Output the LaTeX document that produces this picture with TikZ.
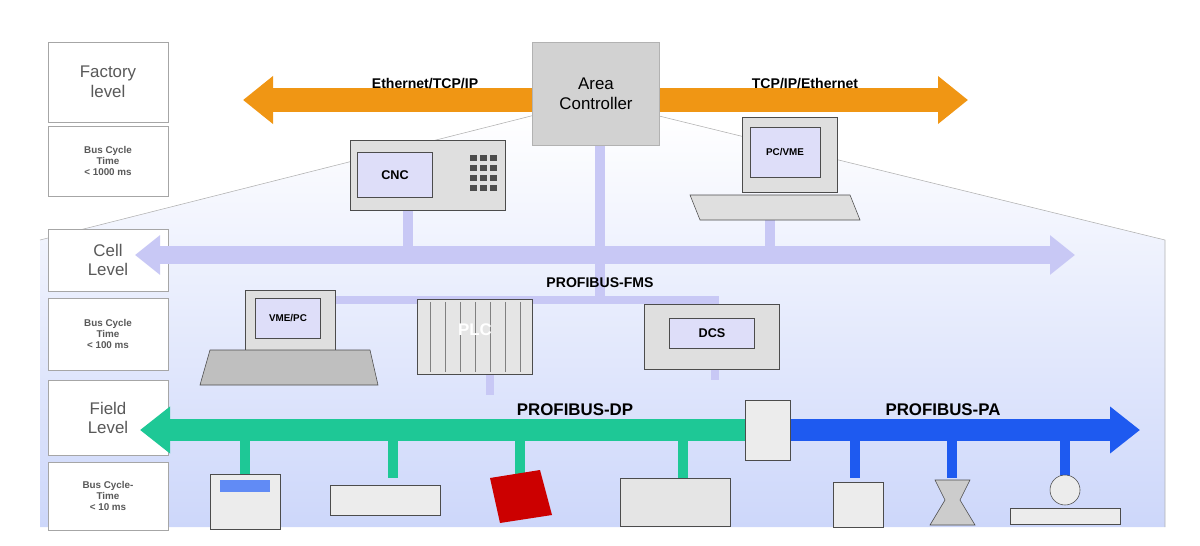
\documentclass[tikz,border=0pt]{standalone}
\usepackage{fontspec}
\setmainfont{Liberation Sans}
\usetikzlibrary{arrows.meta}
\definecolor{orng}{RGB}{240,150,20}
\definecolor{lav}{RGB}{200,200,245}
\definecolor{grn}{RGB}{30,200,150}
\definecolor{blu}{RGB}{30,90,240}
\definecolor{bgb}{RGB}{205,215,250}
\tikzset{
 lvl/.style={draw=gray!70,fill=white,align=center,font=\large,text=gray!70!black,inner sep=0pt},
 bct/.style={draw=gray!70,fill=white,align=center,font=\scriptsize\bfseries,text=gray!70!black,inner sep=0pt},
 dev/.style={draw=black!70,fill=gray!25},
 scr/.style={draw=black!70,fill=lav!60,font=\small\bfseries},
 blab/.style={font=\bfseries}
}
\begin{document}
\begin{tikzpicture}[x=0.025cm,y=-0.025cm]
\useasboundingbox (0,0) rectangle (1200,545);
% background trapezoid
\shade[top color=white,bottom color=bgb] (40,240) -- (535,115) -- (655,115) -- (1165,240) -- (1165,527) -- (40,527) -- cycle;
\draw[gray!60] (40,240) -- (535,115) (655,115) -- (1165,240) -- (1165,527);
% level boxes
\node[lvl,minimum width=120*0.025cm,minimum height=80*0.025cm] (fl) at (108,82) {Factory\\level};
\node[bct,minimum width=120*0.025cm,minimum height=70*0.025cm] (b1) at (108,161) {Bus Cycle\\Time\\\textless{} 1000 ms};
\node[lvl,minimum width=120*0.025cm,minimum height=62*0.025cm] (cl) at (108,260) {Cell\\Level};
\node[bct,minimum width=120*0.025cm,minimum height=72*0.025cm] (b2) at (108,334) {Bus Cycle\\Time\\\textless{} 100 ms};
\node[lvl,minimum width=120*0.025cm,minimum height=75*0.025cm] (fdl) at (108,418) {Field\\Level};
\node[bct,minimum width=120*0.025cm,minimum height=68*0.025cm] (b3) at (108,496) {Bus Cycle-\\Time\\\textless{} 10 ms};
% vertical cell drops
\draw[lav,line width=7pt] (600,145) -- (600,300);
\draw[lav,line width=7pt] (408,210) -- (408,255);
\draw[lav,line width=7pt] (770,215) -- (770,255);
\draw[lav,line width=5pt] (283,380) -- (283,300) -- (715,300) -- (715,380);
\draw[lav,line width=5pt] (490,300) -- (490,395);
% orange
\coordinate (ol) at (243,100); \coordinate (or) at (968,100);
\draw[orng,line width=24*0.025cm,{Triangle[length=30*0.025cm,width=46*0.025cm]}-{Triangle[length=30*0.025cm,width=46*0.025cm]}] (ol) -- (or);
\node[blab] at (425,84) {Ethernet/TCP/IP};
\node[blab] at (805,84) {TCP/IP/Ethernet};
% area controller
\node[draw=gray!60,fill=gray!35,minimum width=127*0.025cm,minimum height=103*0.025cm,align=center,font=\large] (ac) at (596,94) {Area\\Controller};
% lavender cell bus
\coordinate (cla) at (135,255); \coordinate (clb) at (1075,255);
\draw[lav,line width=18*0.025cm,{Triangle[length=25*0.025cm,width=38*0.025cm]}-{Triangle[length=25*0.025cm,width=38*0.025cm]}] (cla) -- (clb);
\node[blab] at (600,283) {PROFIBUS-FMS};
% CNC
\node[dev,minimum width=155*0.025cm,minimum height=70*0.025cm] (cnc) at (428,175) {};
\node[scr,minimum width=75*0.025cm,minimum height=45*0.025cm] at (395,175) {CNC};
\foreach \i in {0,1,2}\foreach \j in {0,1,2,3}{\fill[black!70] (470+\i*10,155+\j*10) rectangle +(7,6);}
% PC/VME
\node[dev,minimum width=95*0.025cm,minimum height=75*0.025cm] (pc) at (790,155) {};
\node[scr,minimum width=70*0.025cm,minimum height=50*0.025cm,font=\scriptsize\bfseries] at (785,152) {PC/VME};
\draw[dev] (690,195) -- (850,195) -- (860,220) -- (700,220) -- cycle;
% VME/PC
\node[dev,minimum width=90*0.025cm,minimum height=60*0.025cm] (vme) at (290,320) {};
\node[scr,minimum width=65*0.025cm,minimum height=40*0.025cm,font=\scriptsize\bfseries] at (288,318) {VME/PC};
\draw[dev,fill=gray!50] (210,350) -- (370,350) -- (378,385) -- (200,385) -- cycle;
% PLC
\node[dev,fill=gray!20,minimum width=115*0.025cm,minimum height=75*0.025cm] (plc) at (475,337) {};
\foreach \x in {430,445,460,475,490,505,520}{\draw[gray] (\x,302) -- (\x,372);}
\node[font=\large\bfseries,text=white] at (475,330) {PLC};
% DCS
\node[dev,minimum width=135*0.025cm,minimum height=65*0.025cm] (dcs) at (712,337) {};
\node[scr,minimum width=85*0.025cm,minimum height=30*0.025cm] at (712,333) {DCS};
% drops
\foreach \x in {245,393,520,683}{\draw[grn,line width=7pt] (\x,430) -- (\x,478);}
\foreach \x in {855,952,1065}{\draw[blu,line width=7pt] (\x,430) -- (\x,478);}
% DP and PA buses
\coordinate (ga) at (140,430); \coordinate (gb) at (765,430);
\draw[grn,line width=22*0.025cm,-{Triangle[length=30*0.025cm,width=45*0.025cm]}] (gb) -- (ga);
\coordinate (pa) at (780,430); \coordinate (pb) at (1140,430);
\draw[blu,line width=22*0.025cm,-{Triangle[length=30*0.025cm,width=45*0.025cm]}] (pa) -- (pb);
\node[blab,font=\large\bfseries] at (575,410) {PROFIBUS-DP};
\node[blab,font=\large\bfseries] at (943,410) {PROFIBUS-PA};
\node[dev,fill=gray!15,minimum width=45*0.025cm,minimum height=60*0.025cm] (cpl) at (768,430) {};
% field devices
\node[dev,fill=gray!15,minimum width=70*0.025cm,minimum height=55*0.025cm] (d1) at (245,502) {};
\fill[blu!70] (220,480) rectangle (270,492);
\node[dev,fill=gray!15,minimum width=110*0.025cm,minimum height=30*0.025cm] (d2) at (385,500) {};
\fill[red!80!black] (490,478) -- (540,470) -- (552,515) -- (500,523) -- cycle;
\node[dev,fill=gray!20,minimum width=110*0.025cm,minimum height=48*0.025cm] (d4) at (675,502) {};
\node[dev,fill=gray!15,minimum width=50*0.025cm,minimum height=45*0.025cm] (p1) at (858,505) {};
\draw[dev,fill=gray!40] (935,480) -- (970,480) -- (960,500) -- (975,525) -- (930,525) -- (945,500) -- cycle;
\draw[dev,fill=gray!15] (1010,508) rectangle (1120,524);
\node[dev,fill=gray!15,circle,minimum size=30*0.025cm] (p3) at (1065,490) {};
\end{tikzpicture}
\end{document}
